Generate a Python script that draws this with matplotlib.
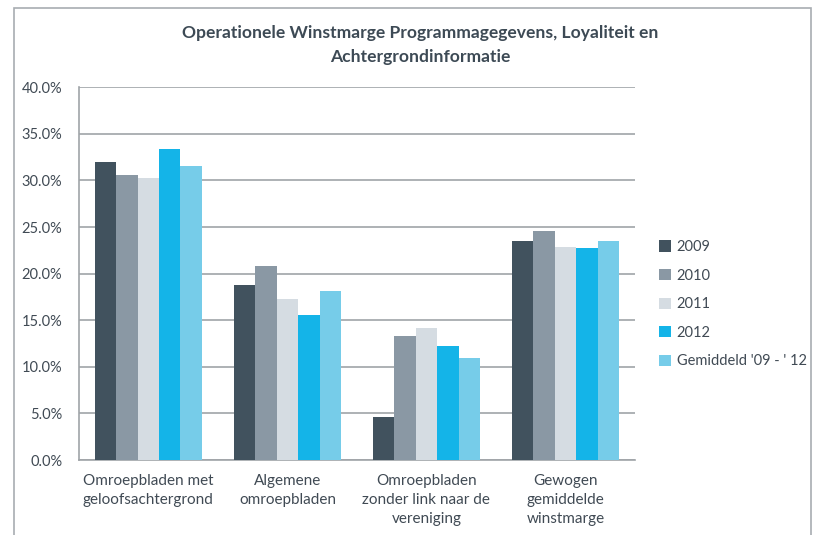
import matplotlib.pyplot as plt
import numpy as np
from matplotlib.patches import Rectangle

plt.rcParams['font.family'] = ['Lato', 'DejaVu Sans']

# data (percent)
categories = ['Omroepbladen met\ngeloofsachtergrond', 'Algemene\nomroepbladen',
              'Omroepbladen\nzonder link naar de\nvereniging', 'Gewogen\ngemiddelde\nwinstmarge']
series = ['2009', '2010', '2011', '2012', "Gemiddeld '09 - ' 12"]
v2009 = [32.0, 18.8, 4.6, 23.5]
v2010 = [30.6, 20.8, 13.3, 24.6]
v2011 = [30.3, 17.3, 14.2, 22.9]
v2012 = [33.4, 15.6, 12.2, 22.8]
vgem = [31.6, 18.1, 11.0, 23.5]
values = [v2009, v2010, v2011, v2012, vgem]
colors = ['#41525e', '#8a98a4', '#d5dce2', '#14b4e8', '#76cce9']

fig = plt.figure(figsize=(8.13, 5.35), dpi=100)
# outer frame (open at bottom/right like the source)
fig.patches.append(Rectangle((0.017, -0.01), 0.981, 0.995, transform=fig.transFigure,
                             fill=False, edgecolor='#a8adb2', linewidth=1.2))
ax = fig.add_axes([0.097, 0.140, 0.684, 0.697])

x = np.arange(len(categories))
w = 0.154
for i, (s, vals, c) in enumerate(zip(series, values, colors)):
    ax.bar(x + (i - 2) * w, vals, width=w, color=c, label=s, zorder=3)

ax.set_ylim(0, 40)
ax.set_xlim(-0.5, 3.5)
ax.set_yticks(np.arange(0, 41, 5))
ax.set_yticklabels([f'{t:.1f}%' for t in np.arange(0, 41, 5)])
ax.yaxis.grid(True, color='#a0a4a8', linewidth=1.2, zorder=0)
ax.set_xticks(x)
ax.set_xticklabels(categories, va='top', linespacing=1.45)
ax.tick_params(axis='x', length=0, pad=10, labelsize=11, colors='#404a54')
ax.tick_params(axis='y', length=0, pad=12, labelsize=10.5, colors='#404a54')
for side in ['top', 'right']:
    ax.spines[side].set_visible(False)
ax.spines['left'].set_color('#a0a4a8')
ax.spines['bottom'].set_color('#a0a4a8')
ax.spines['left'].set_linewidth(1.2)
ax.spines['bottom'].set_linewidth(1.2)

fig.text(0.517, 0.916, 'Operationele Winstmarge Programmagegevens, Loyaliteit en\nAchtergrondinformatie',
         ha='center', va='center', fontsize=12.6, fontweight='bold', color='#3d4a55', linespacing=1.55)

leg = ax.legend(loc='center left', bbox_to_anchor=(1.02, 0.418), frameon=False,
                fontsize=10.5, handlelength=0.8, handleheight=0.8, labelspacing=1.0,
                handletextpad=0.4)
for t in leg.get_texts():
    t.set_color('#404a54')

fig.savefig('out.png', dpi=100)
